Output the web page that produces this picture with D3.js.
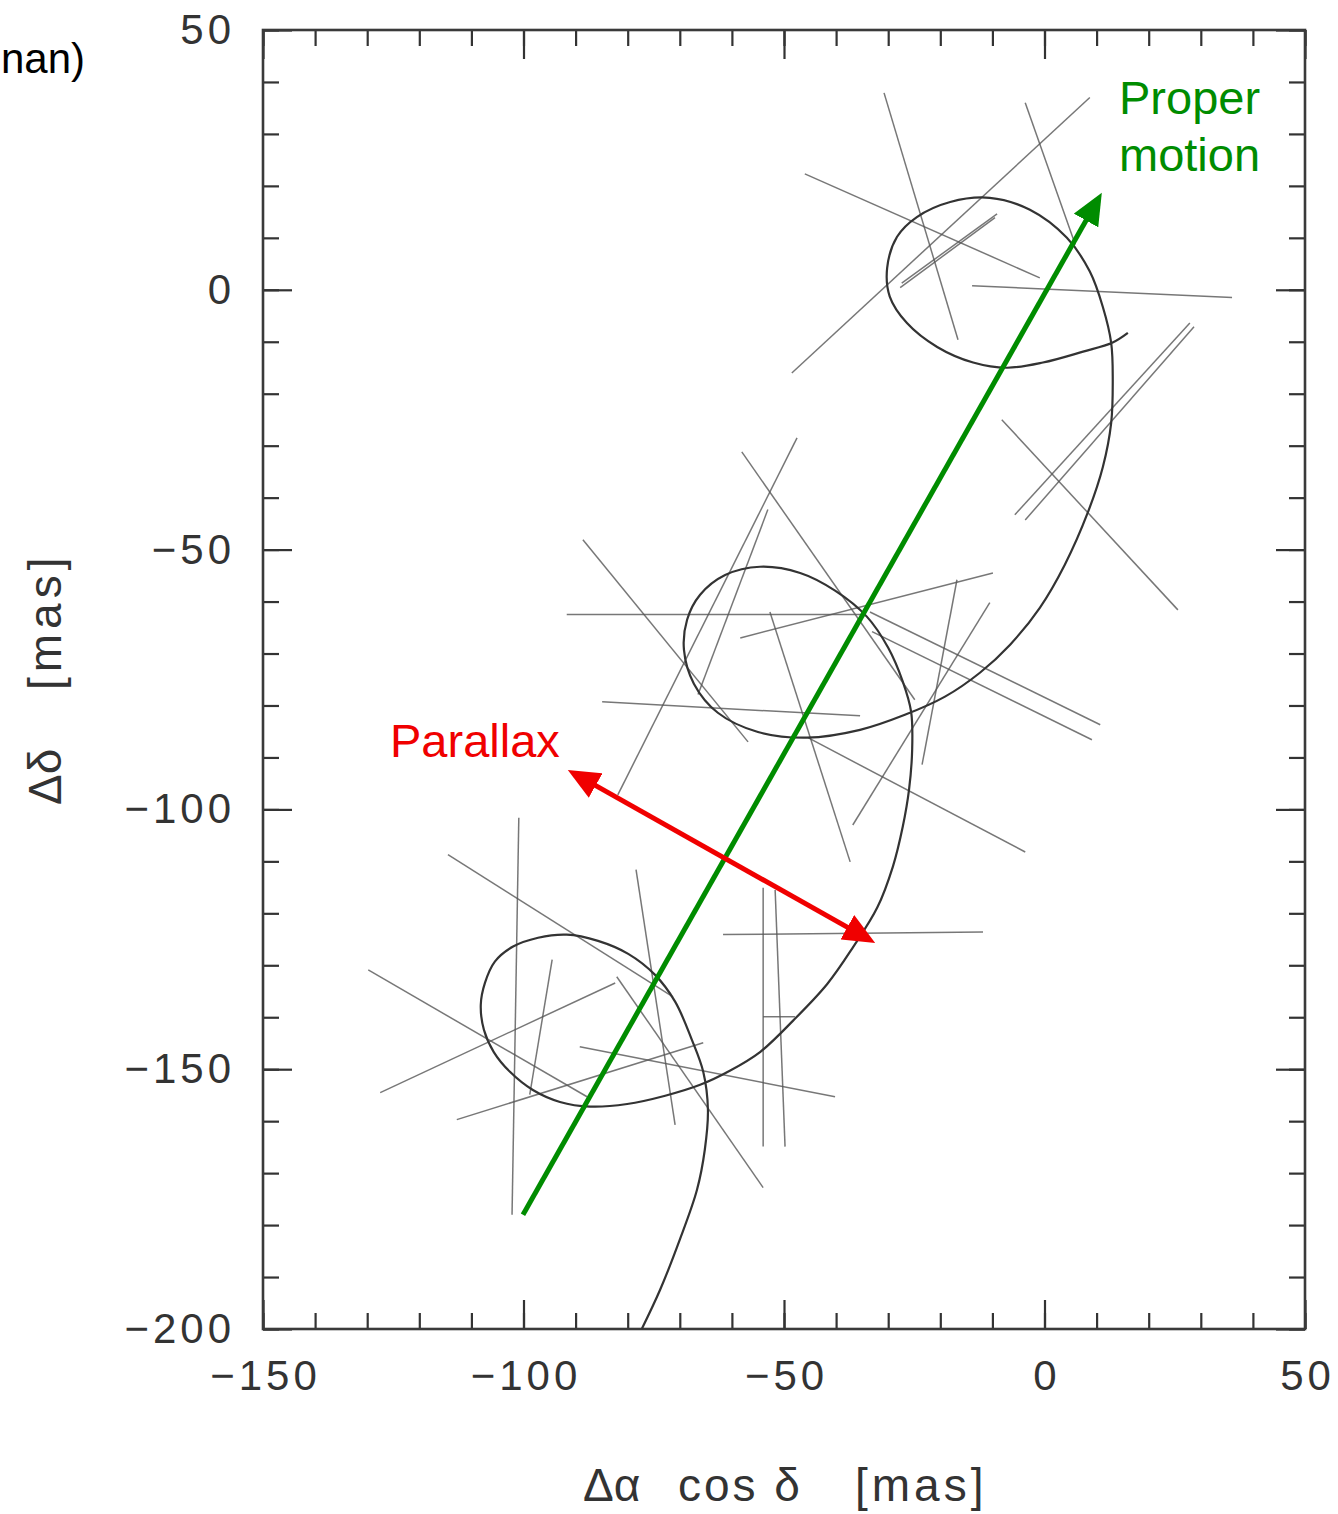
<!DOCTYPE html>
<html>
<head>
<meta charset="utf-8">
<script src="https://cdn.jsdelivr.net/npm/d3@7"></script>
<style>
    body { margin: 0; background: #fff; }
    svg text { font-family: "Liberation Sans", Arial, sans-serif; }
</style>
</head>
<body>
<div id="chart"></div>
<script>

// apparent path of the star on the sky [mas]
const pathRA = [-77.3, -73.8, -70.0, -66.7, -65.2, -64.6, -65.5, -67.7, -70.9, -74.8,
    -79.9, -85.7, -91.7, -97.2, -102.0, -105.5, -107.4, -108.2, -107.6, -105.7,
    -102.6, -98.2, -93.0, -87.2, -80.1, -72.8, -66.1, -60.4, -54.6, -48.3,
    -41.7, -36.8, -32.1, -29.1, -27.2, -26.0, -25.4, -25.6, -27.2, -30.0,
    -34.1, -40.2, -46.9, -54.6, -61.3, -66.1, -68.6, -69.2, -67.3, -62.7,
    -55.0, -45.6, -35.4, -26.8, -19.1, -12.4, -6.6, -0.9, 3.9, 8.3,
    11.2, 12.8, 13.1, 12.8, 11.2, 8.7, 4.3, -2.8, -10.5, -18.1,
    -24.5, -28.3, -30.2, -29.7, -26.4, -20.6, -13.7, -7.2, -0.3, 7.4,
    13.0, 16.0]
const pathDec = [-200.0, -192.5, -182.8, -173.2, -165.5, -157.8, -150.5, -144.3, -137.0, -131.8,
    -127.8, -125.3, -124.1, -124.7, -126.4, -129.3, -133.4, -137.6, -142.4, -146.7,
    -150.5, -154.0, -156.3, -157.2, -156.7, -155.1, -153.0, -150.3, -146.7, -140.7,
    -133.6, -126.6, -118.9, -111.0, -103.3, -96.2, -88.5, -81.2, -75.4, -68.9,
    -62.9, -57.9, -54.5, -53.3, -54.9, -58.7, -63.5, -69.3, -75.8, -81.4,
    -85.1, -86.2, -84.7, -81.8, -78.3, -73.7, -68.3, -61.2, -52.9, -42.9,
    -34.1, -25.6, -17.3, -10.2, -3.3, 3.5, 10.0, 15.4, 17.7, 16.9,
    14.0, 10.2, 4.2, -1.3, -6.4, -11.0, -14.0, -15.0, -14.0, -11.9,
    -10.2, -8.3]

// 1D measurement lines (start / end) [mas]
const barRA1  = [-30.8, -3.7, 8.7, -46.0, -9.1, -9.5, -13.9, 27.9, 28.7, -8.2,
    -47.5, -58.1, -88.6, -91.7, -58.4, -84.9, -53.1, -52.7, -45.4, -10.5, -16.8, -33.5, -33.1,
    -100.9, -114.5, -129.8, -127.5, -94.5, -82.1, -78.4, -89.2, -112.8, -54.0, -51.7, -61.7, -54.0]
const barDec1 = [37.9, 36.0, 37.0, 22.3, 14.6, 13.9, 0.8, -6.4, -7.1, -25.0,
    -28.5, -31.2, -48.1, -62.5, -67.0, -79.3, -42.3, -62.0, -86.2, -60.2, -55.8, -62.0, -65.8,
    -101.6, -108.7, -130.9, -154.5, -128.9, -132.2, -111.6, -145.7, -159.7, -115.1, -115.5, -124.1, -139.9]
const barRA2  = [-16.6, 5.9, -48.5, -0.9, -27.4, -27.7, 36.0, -5.7, -3.7, 25.6,
    -81.9, -24.9, -56.9, -34.5, -9.9, -35.4, -66.5, -37.3, -3.7, -36.8, -23.5, 10.7, 9.1,
    -102.2, -71.3, -87.8, -82.4, -98.8, -54.0, -70.9, -40.2, -65.5, -54.0, -49.8, -11.8, -47.9]
const barDec2 = [-9.6, 8.7, -16.0, 2.3, 1.3, 0.4, -1.5, -43.3, -44.3, -61.6,
    -97.2, -78.9, -87.0, -62.5, -54.5, -82.0, -77.9, -110.1, -108.2, -103.0, -91.4, -83.7, -86.6,
    -178.0, -136.1, -155.3, -133.4, -154.9, -172.8, -160.7, -155.3, -144.9, -164.9, -164.9, -123.6, -139.9]

// annotation arrows [mas]
const motionStart = [-100.1, -178.0]
const motionEnd = [11.0, 18.7]
const parallaxA = [-91.5, -92.4]
const parallaxB = [-32.5, -125.7]

const xTicks = [-150, -100, -50, 0, 50]
const yTicks = [-200, -150, -100, -50, 0, 50]
const xMinor = d3.range(-150, 51, 10)
const yMinor = d3.range(-200, 51, 10)


let margin = {top: 30, right: 33, bottom: 185, left: 263};
let width = 1338 - margin.left - margin.right;
let height = 1514 - margin.top - margin.bottom;

let svg = d3.select("#chart").append("svg")
    .attr("width", 1338)
    .attr("height", 1514)

let g = svg.append("g")
    .attr("transform", `translate(${margin.left}, ${margin.top})`);

let x = d3.scaleLinear().domain([-150, 50]).range([0, width]);
let y = d3.scaleLinear().domain([-200, 50]).range([height, 0]);

// arrow heads
let defs = svg.append("defs")
;[["headGreen", "#008c00"], ["headRed", "#f00000"]].forEach(([id, col]) => {
    defs.append("marker")
        .attr("id", id)
        .attr("markerUnits", "userSpaceOnUse")
        .attr("markerWidth", 32)
        .attr("markerHeight", 28)
        .attr("refX", 6)
        .attr("refY", 14)
        .attr("orient", "auto-start-reverse")
        .append("path")
        .attr("d", "M0,0 L32,14 L0,28 Z")
        .attr("fill", col)
})

// ticks on all four sides, pointing inward
let tickGroups = [
    [() => d3.axisBottom(x), `translate(0,${height})`, xMinor, xTicks],
    [() => d3.axisTop(x), `translate(0,0)`, xMinor, xTicks],
    [() => d3.axisLeft(y), `translate(0,0)`, yMinor, yTicks],
    [() => d3.axisRight(y), `translate(${width},0)`, yMinor, yTicks]
]
tickGroups.forEach(([makeAxis, tr, minor, major]) => {
    g.append("g").attr("transform", tr)
        .call(makeAxis().tickValues(minor).tickSize(-16).tickFormat(""))
    g.append("g").attr("transform", tr)
        .call(makeAxis().tickValues(major).tickSize(-29).tickFormat(""))
})
g.selectAll(".domain").remove()
g.selectAll(".tick line").attr("stroke", "#333").attr("stroke-width", 2.2)

// tick labels
let xLab = g.append("g").attr("transform", `translate(0,${height})`)
    .call(d3.axisBottom(x).tickValues(xTicks).tickSize(0).tickPadding(31))
let yLab = g.append("g")
    .call(d3.axisLeft(y).tickValues(yTicks).tickSize(0).tickPadding(28))
;[xLab, yLab].forEach(a => {
    a.select(".domain").remove()
    a.selectAll("text")
        .attr("font-size", 42)
        .attr("font-family", "Liberation Sans, Arial, sans-serif")
        .attr("letter-spacing", 4)
        .attr("fill", "#333")
})
xLab.selectAll("text").attr("dx", 2)

// frame
g.append("rect")
    .attr("width", width)
    .attr("height", height)
    .attr("fill", "none")
    .attr("stroke", "#3a3a3a")
    .attr("stroke-width", 2.6)

// measurement lines
let bars = d3.range(barRA1.length).map(i => [barRA1[i], barDec1[i], barRA2[i], barDec2[i]])
g.append("g").selectAll("line")
    .data(bars)
    .enter().append("line")
    .attr("x1", d => x(d[0]))
    .attr("y1", d => y(d[1]))
    .attr("x2", d => x(d[2]))
    .attr("y2", d => y(d[3]))
    .attr("stroke", "#555")
    .attr("stroke-width", 1.5)
    .attr("stroke-opacity", 0.8)

// star path
let pts = d3.zip(pathRA, pathDec)
g.append("path")
    .datum(pts)
    .attr("d", d3.line().x(d => x(d[0])).y(d => y(d[1])).curve(d3.curveCatmullRom.alpha(0.5)))
    .attr("fill", "none")
    .attr("stroke", "#333")
    .attr("stroke-width", 2.2)

// arrows: shorten shafts so the heads end on the given points
function shaft(a, b, cutA, cutB) {
    let x1 = x(a[0]), y1 = y(a[1]), x2 = x(b[0]), y2 = y(b[1])
    let len = Math.hypot(x2 - x1, y2 - y1)
    let ux = (x2 - x1) / len, uy = (y2 - y1) / len
    return [x1 + ux * cutA, y1 + uy * cutA, x2 - ux * cutB, y2 - uy * cutB]
}
let pm = shaft(motionStart, motionEnd, 0, 26)
g.append("line")
    .attr("x1", pm[0]).attr("y1", pm[1]).attr("x2", pm[2]).attr("y2", pm[3])
    .attr("stroke", "#008c00")
    .attr("stroke-width", 5)
    .attr("marker-end", "url(#headGreen)")

let px = shaft(parallaxA, parallaxB, 26, 26)
g.append("line")
    .attr("x1", px[0]).attr("y1", px[1]).attr("x2", px[2]).attr("y2", px[3])
    .attr("stroke", "#f00000")
    .attr("stroke-width", 5)
    .attr("marker-start", "url(#headRed)")
    .attr("marker-end", "url(#headRed)")

// labels
svg.append("text")
    .attr("x", 1119).attr("y", 114)
    .attr("font-size", 47).attr("fill", "#008c00")
    .text("Proper")
svg.append("text")
    .attr("x", 1119).attr("y", 171)
    .attr("font-size", 47).attr("fill", "#008c00")
    .text("motion")
svg.append("text")
    .attr("x", 390).attr("y", 757)
    .attr("font-size", 47).attr("fill", "#f00000")
    .text("Parallax")

// leftover caption text cut by the left edge
svg.append("text")
    .attr("x", 1).attr("y", 73)
    .attr("font-size", 42).attr("fill", "#000")
    .text("nan)")

// axis titles
let xt = svg.append("text")
    .attr("y", 1501)
    .attr("font-size", 46).attr("fill", "#333")
xt.append("tspan").attr("x", 583).text("Δα")
xt.append("tspan").attr("x", 678).attr("letter-spacing", 3).text("cos δ")
xt.append("tspan").attr("x", 855).attr("letter-spacing", 4).text("[mas]")

let yt = svg.append("text")
    .attr("transform", "translate(61,0) rotate(-90)")
    .attr("font-size", 46).attr("fill", "#333")
yt.append("tspan").attr("x", -805).text("Δδ")
yt.append("tspan").attr("x", -690).attr("letter-spacing", 5).text("[mas]")

</script>
</body>
</html>
